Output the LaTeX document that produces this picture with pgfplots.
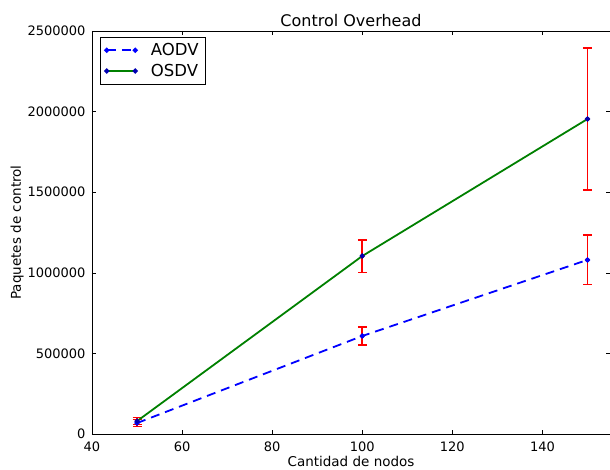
\documentclass[border=0pt]{standalone}
\usepackage{fontspec}
\setmainfont{DejaVu Sans}
\usepackage{pgfplots}
\pgfplotsset{compat=1.18}
\definecolor{mblue}{rgb}{0,0,1}
\definecolor{mgreen}{rgb}{0,0.5,0}
\definecolor{mred}{rgb}{1,0,0}
\begin{document}
\begin{tikzpicture}
\begin{axis}[
  scale only axis,
  width=518pt, height=403pt,
  xmin=40, xmax=155, ymin=0, ymax=2500000,
  xtick={40,60,80,100,120,140},
  ytick={0,500000,1000000,1500000,2000000,2500000},
  scaled y ticks=false,
  /pgf/number format/assume math mode=true,
  yticklabel style={/pgf/number format/fixed, /pgf/number format/1000 sep={}, xshift=-3pt},
  xticklabel style={/pgf/number format/1000 sep={}, yshift=-4pt},
  tick label style={font=\fontsize{13}{15}\selectfont},
  tick align=inside,
  major tick length=4pt,
  tick style={black, line width=0.6pt},
  axis line style={line width=0.8pt},
  title={Control Overhead},
  title style={font=\fontsize{16}{18}\selectfont, yshift=-5pt},
  xlabel={Cantidad de nodos},
  ylabel={Paquetes de control},
  label style={font=\fontsize{13.5}{15}\selectfont},
  xlabel style={yshift=2pt},
  ylabel style={yshift=-3pt},
  legend style={at={(0.015,0.985)}, anchor=north west,
    nodes={font=\fontsize{16.5}{19}\selectfont},
    draw=black, line width=0.8pt, inner xsep=5pt, inner ysep=4pt, row sep=3pt, cells={anchor=west}},
  legend image code/.code={\draw[#1] plot coordinates {(0cm,0cm) (1cm,0cm)}; \path (1.45cm,0cm);},
]
% error bars
\addplot[only marks, mark=none, forget plot, draw=mred,
  error bars/.cd, y dir=both, y explicit,
  error bar style={draw=mred, color=mred, line width=1.6pt, solid},
  error mark options={rotate=90, draw=mred, color=mred, mark size=4.5pt, line width=1.2pt}]
  coordinates {
  (50,68000) +- (0,22000)
  (100,608000) +- (0,56000)
  (150,1080000) +- (0,155000)
  };
\addplot[only marks, mark=none, forget plot, draw=mred,
  error bars/.cd, y dir=both, y explicit,
  error bar style={draw=mred, color=mred, line width=1.6pt, solid},
  error mark options={rotate=90, draw=mred, color=mred, mark size=4.5pt, line width=1.2pt}]
  coordinates {
  (50,80000) +- (0,20000)
  (100,1104000) +- (0,100000)
  (150,1954000) +- (0,440000)
  };
\addplot[color=mblue, line width=1.8pt, dash pattern=on 9pt off 6pt, mark=*, mark size=1.6pt,
  mark options={solid, fill=mblue, draw=mblue}]
  coordinates {(50,68000) (100,608000) (150,1080000)};
\addlegendentry{AODV}
\addplot[color=mgreen, line width=1.8pt, mark=*, mark size=1.6pt,
  mark options={solid, fill=mblue!70!black, draw=mblue!70!black}]
  coordinates {(50,80000) (100,1104000) (150,1954000)};
\addlegendentry{OSDV}
\end{axis}
\pgfresetboundingbox
\path ([xshift=-92pt,yshift=-35pt]current axis.south west) rectangle ([yshift=31pt]current axis.north east);
\end{tikzpicture}
\end{document}
